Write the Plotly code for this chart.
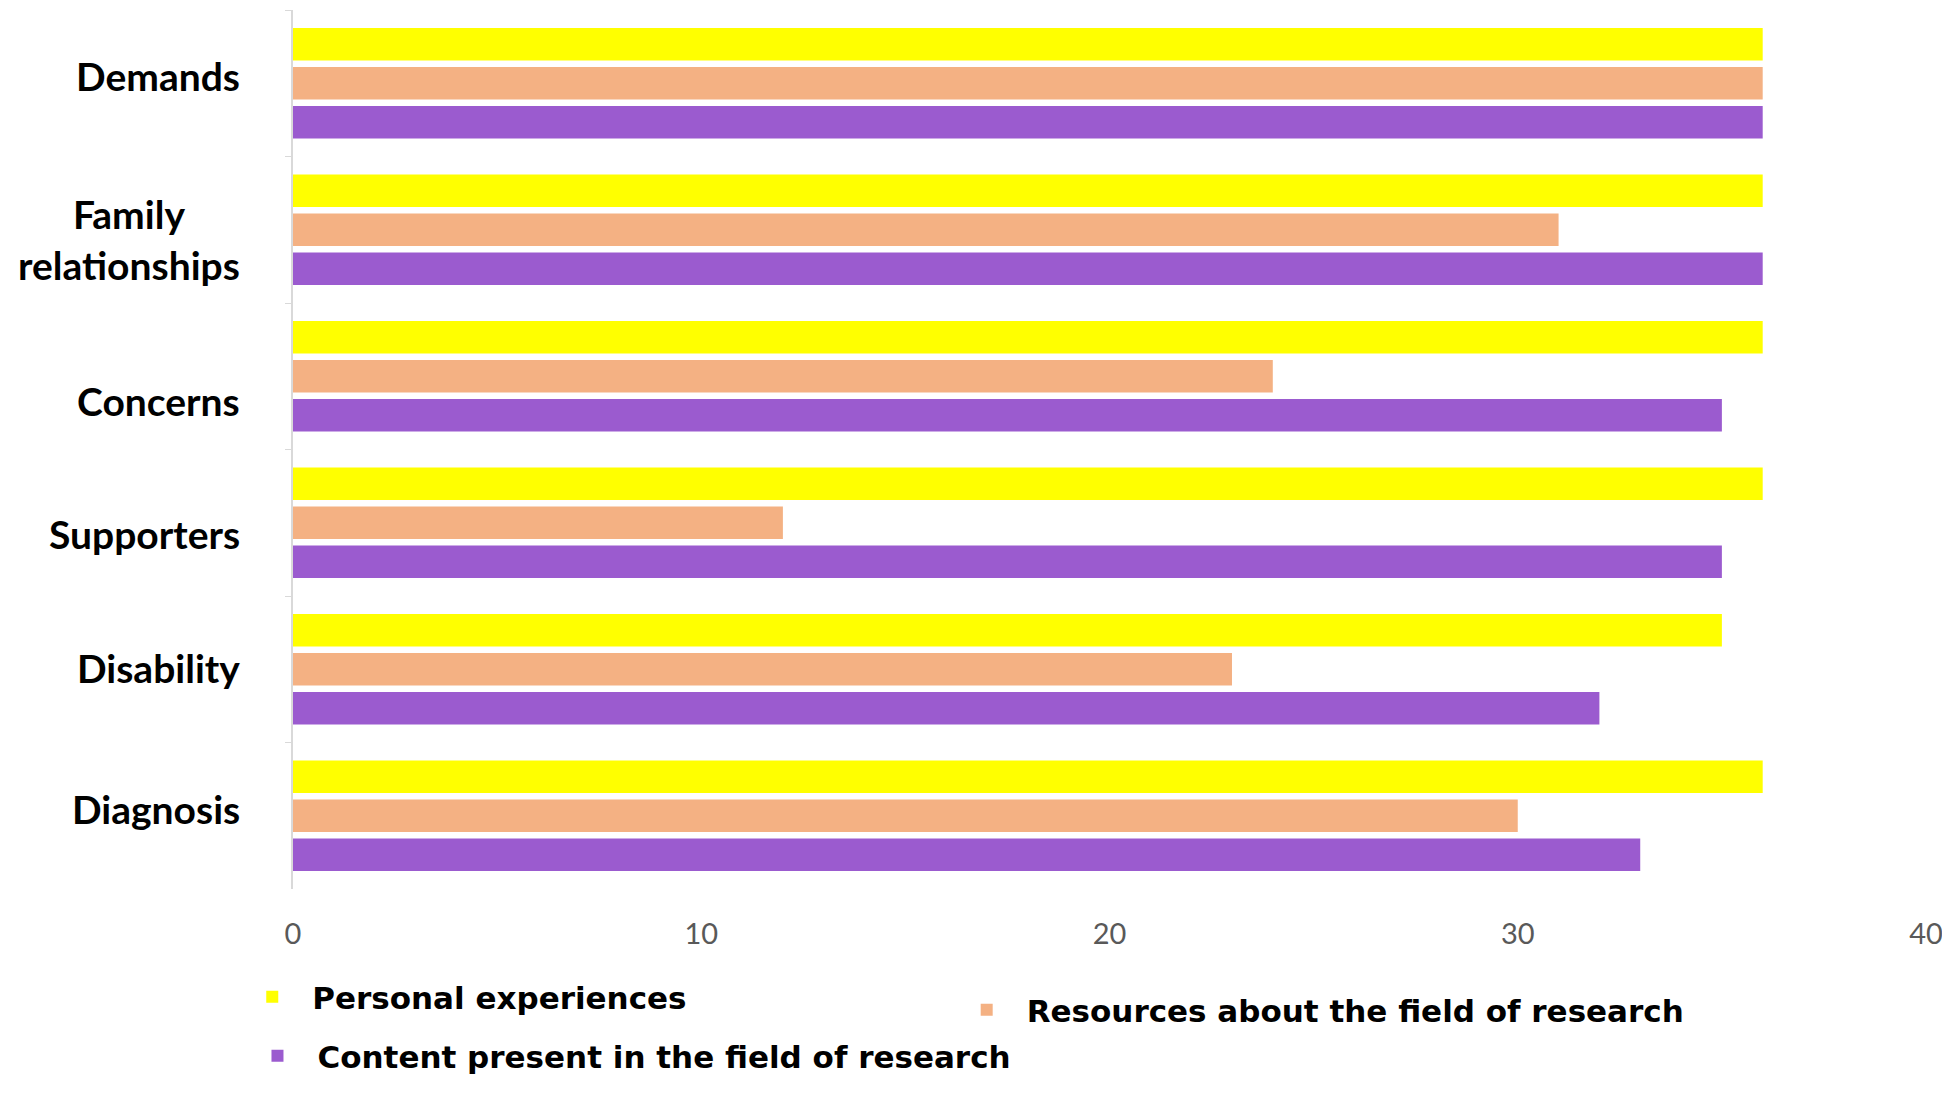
import plotly.graph_objects as go

# Data
categories = ['Demands', 'Family relationships', 'Concerns',
              'Supporters', 'Disability', 'Diagnosis']
label_text = ['Demands', 'Family<br>relationships', 'Concerns',
              'Supporters', 'Disability', 'Diagnosis']
personal = [36, 36, 36, 36, 35, 36]
resources = [36, 31, 24, 12, 23, 30]
content = [36, 36, 35, 35, 32, 33]
x_ticks = [0, 10, 20, 30, 40]

series = [
    ('Personal experiences', personal, '#FFFF00', 'legend'),
    ('Resources about the field of research', resources, '#F4B183', 'legend2'),
    ('Content present in the field of research', content, '#9B5BCF', 'legend3'),
]

# label nudges (px, up is positive) as the labels sit in the original
label_yshift = [7, -10, -25, -11, 1, 7]

fig = go.Figure()
for name, vals, color, leg in series:
    fig.add_trace(go.Bar(
        x=vals, y=categories, orientation='h', name=name, legend=leg,
        marker=dict(color=color, line=dict(width=0)),
    ))

# category labels as annotations so the two-line one can be centred
for cat, txt, dy in zip(categories, label_text, label_yshift):
    fig.add_annotation(
        x=0, y=cat, xref='x', yref='y', text=txt, showarrow=False,
        xanchor='right', align='center', xshift=-51, yshift=dy,
        font=dict(family='Lato', size=39, color='#000000', weight='bold'),
    )

legend_font = dict(family='DejaVu Sans', size=31, color='#000000', weight='bold')


def legend_box(x, y):
    return dict(x=x, y=y, xanchor='left', yanchor='middle',
                orientation='h', itemwidth=70, font=legend_font,
                bgcolor='rgba(0,0,0,0)')


fig.update_layout(
    width=1950, height=1101,
    margin=dict(l=285, r=32, t=2, b=220),
    paper_bgcolor='white', plot_bgcolor='white',
    barmode='group', bargap=0.2, bargroupgap=0.17,
    font=dict(family='Lato'),
    showlegend=True,
    legend=legend_box(-0.0372, -0.1229),
    legend2=legend_box(0.4003, -0.1377),
    legend3=legend_box(-0.0340, -0.19),
)

fig.update_xaxes(
    range=[0, 40], tickvals=x_ticks, showgrid=False, zeroline=False,
    showline=False, ticks='', ticklabelstandoff=25,
    tickfont=dict(family='Lato', size=29, color='#595959'),
)
fig.update_yaxes(
    autorange='reversed', showticklabels=False, showgrid=False,
    showline=True, linecolor='#D9D9D9', linewidth=2,
    ticks='outside', ticklen=6, tickcolor='#D9D9D9', tickson='boundaries',
)

fig.write_html("out.html")
